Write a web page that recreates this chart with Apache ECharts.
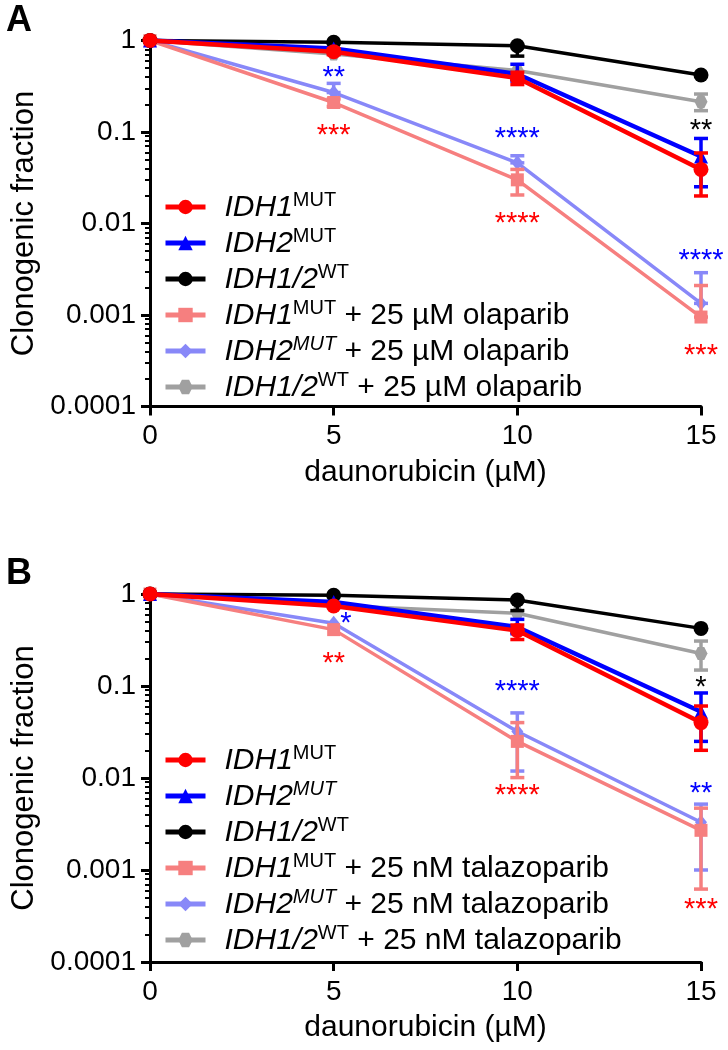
<!DOCTYPE html>
<html>
<head>
<meta charset="utf-8">
<script src="https://cdn.jsdelivr.net/npm/echarts@6/dist/echarts.min.js"></script>
<style>
html,body{margin:0;padding:0;background:#fff;}
#chart{width:728px;height:1050px;}
</style>
</head>
<body>
<div id="chart"></div>
<script>
// ---------- data ----------
const doses = [0, 5, 10, 15];
const yTickLabels = ['0.0001', '0.001', '0.01', '0.1', '1'];

// Panel A (olaparib)
const aIdh1 = [1, 0.755, 0.39, 0.039];
const aIdh2 = [1, 0.82, 0.43, 0.054];
const aWt = [1, 0.955, 0.875, 0.42];
const aIdh1Ola = [1, 0.21, 0.030, 0.00095];
const aIdh2Ola = [1, 0.27, 0.046, 0.00134];
const aWtOla = [1, 0.71, 0.47, 0.214];

// error bars [dose, low, high]
const aIdh1Err = [[5, 0.70, 0.81], [10, 0.33, 0.45], [15, 0.0200, 0.059]];
const aIdh2Err = [[10, 0.36, 0.55], [15, 0.0252, 0.085]];
const aWtErr = [[10, 0.675, 0.875]];
const aIdh1OlaErr = [[5, 0.19, 0.23], [10, 0.0205, 0.039], [15, 0.00095, 0.0021]];
const aIdh2OlaErr = [[5, 0.27, 0.34], [10, 0.046, 0.055], [15, 0.00134, 0.0029]];
const aWtOlaErr = [[15, 0.171, 0.26]];

// Panel B (talazoparib)
const bIdh1 = [1, 0.74, 0.40, 0.040];
const bIdh2 = [1, 0.82, 0.437, 0.0525];
const bWt = [1, 0.97, 0.86, 0.423];
const bIdh1Tal = [1, 0.41, 0.025, 0.0027];
const bIdh2Tal = [1, 0.48, 0.032, 0.0033];
const bWtTal = [1, 0.75, 0.617, 0.226];

const bIdh1Err = [[10, 0.32, 0.46], [15, 0.020, 0.0606]];
const bIdh2Err = [[10, 0.37, 0.53], [15, 0.025, 0.084]];
const bWtErr = [[10, 0.66, 0.86]];
const bIdh1TalErr = [[10, 0.0101, 0.040], [15, 0.00062, 0.0047]];
const bIdh2TalErr = [[10, 0.0119, 0.051], [15, 0.0010, 0.0052]];
const bWtTalErr = [[15, 0.149, 0.308]];

// significance annotations [dose, y, text, colorKey]
const aStars = [
  [5, 0.456, '**', 'blue'], [5, 0.105, '***', 'red'],
  [10, 0.098, '****', 'blue'], [10, 0.0114, '****', 'red'],
  [15, 0.119, '**', 'black'], [15, 0.00453, '****', 'blue'], [15, 0.000414, '***', 'red']
];
const bStars = [
  [5.33, 0.548, '*', 'blue'], [5, 0.201, '**', 'red'],
  [10, 0.1005, '****', 'blue'], [10, 0.00736, '****', 'red'],
  [15, 0.111, '*', 'black'], [15, 0.00774, '**', 'blue'], [15, 0.000423, '***', 'red']
];

// legend labels: [gene, superscript, suffix]
const aLegend = [
  ['IDH1', 'MUT', ''], ['IDH2', 'MUT', ''], ['IDH1/2', 'WT', ''],
  ['IDH1', 'MUT', ' + 25 µM olaparib'], ['IDH2', 'MUT', ' + 25 µM olaparib'], ['IDH1/2', 'WT', ' + 25 µM olaparib']
];
const bLegend = [
  ['IDH1', 'MUT', ''], ['IDH2', 'MUT', ''], ['IDH1/2', 'WT', ''],
  ['IDH1', 'MUT', ' + 25 nM talazoparib'], ['IDH2', 'MUT', ' + 25 nM talazoparib'], ['IDH1/2', 'WT', ' + 25 nM talazoparib']
];

// ---------- styles ----------
const FONT = '"Liberation Sans", Arial, Helvetica, sans-serif';
const C = {red: '#ff0000', blue: '#0000ff', black: '#000000', salmon: '#f67f7f', lav: '#8888f8', gray: '#a0a0a0'};
const HEX = 'path://M-1,0 L-0.5,-0.87 L0.5,-0.87 L1,0 L0.5,0.87 L-0.5,0.87 Z';
const seriesStyle = [
  {color: C.red, symbol: 'circle', size: 15, width: 4.5, z: 7},
  {color: C.blue, symbol: 'triangle', size: 14, width: 4.5, z: 6},
  {color: C.black, symbol: 'circle', size: 15, width: 3.5, z: 5},
  {color: C.salmon, symbol: 'rect', size: 13, width: 3.5, z: 4},
  {color: C.lav, symbol: 'diamond', size: [12, 15], width: 3.5, z: 3},
  {color: C.gray, symbol: HEX, size: 13, width: 3.5, z: 2}
];

const panels = [
  {key: 'A', vals: [aIdh1, aIdh2, aWt, aIdh1Ola, aIdh2Ola, aWtOla],
   errs: [aIdh1Err, aIdh2Err, aWtErr, aIdh1OlaErr, aIdh2OlaErr, aWtOlaErr],
   stars: aStars, legend: aLegend, top: 40.5, height: 366, legendTop: 185},
  {key: 'B', vals: [bIdh1, bIdh2, bWt, bIdh1Tal, bIdh2Tal, bWtTal],
   errs: [bIdh1Err, bIdh2Err, bWtErr, bIdh1TalErr, bIdh2TalErr, bWtTalErr],
   stars: bStars, legend: bLegend, top: 594, height: 368, legendTop: 738}
];

const grids = [], xAxes = [], yAxes = [], series = [], legends = [], titles = [];
const minorVals = [];
for (let e = -4; e < 0; e++) for (let m = 2; m <= 9; m++) minorVals.push(m * Math.pow(10, e));

function errRender(color) {
  return function (params, api) {
    const x = api.value(0), lo = api.value(1), hi = api.value(2);
    const pLo = api.coord([x, lo]), pHi = api.coord([x, hi]);
    const hw = 7;
    const st = {stroke: color, lineWidth: 3.5};
    return {type: 'group', children: [
      {type: 'line', shape: {x1: pLo[0], y1: pLo[1], x2: pHi[0], y2: pHi[1]}, style: st},
      {type: 'line', shape: {x1: pLo[0] - hw, y1: pLo[1], x2: pLo[0] + hw, y2: pLo[1]}, style: st},
      {type: 'line', shape: {x1: pHi[0] - hw, y1: pHi[1], x2: pHi[0] + hw, y2: pHi[1]}, style: st}
    ]};
  };
}

panels.forEach((p, gi) => {
  grids.push({left: 150, width: 551, top: p.top, height: p.height, containLabel: false});
  xAxes.push({
    type: 'value', gridIndex: gi, min: 0, max: 15, interval: 5,
    axisLine: {show: true, lineStyle: {color: '#000', width: 3}},
    axisTick: {show: true, length: 9, lineStyle: {color: '#000', width: 3}},
    splitLine: {show: false},
    axisLabel: {fontSize: 28, color: '#000', fontFamily: FONT, margin: 16},
    name: 'daunorubicin (µM)', nameLocation: 'middle', nameGap: 51,
    nameTextStyle: {fontSize: 30, color: '#000', fontFamily: FONT}
  });
  yAxes.push({
    type: 'log', logBase: 10, gridIndex: gi, min: 0.0001, max: 1, position: 'left',
    axisLine: {show: true, lineStyle: {color: '#000', width: 3}},
    axisTick: {show: true, length: 9, lineStyle: {color: '#000', width: 3}},
    splitLine: {show: false},
    axisLabel: {fontSize: 28, color: '#000', fontFamily: FONT, margin: 14,
      formatter: v => yTickLabels[Math.round(Math.log10(v)) + 4]},
    name: 'Clonogenic fraction', nameLocation: 'middle', nameGap: 103,
    nameTextStyle: {fontSize: 31, color: '#000', fontFamily: FONT}
  });
  titles.push({text: p.key, left: 1, top: p.key === 'A' ? -2 : 551,
    textStyle: {fontSize: 36, fontWeight: 'bold', color: '#000', fontFamily: FONT}});

  const names = [];
  const fmtMap = {};
  p.vals.forEach((vals, si) => {
    const st = seriesStyle[si];
    const name = p.key + si;
    names.push(name);
    const lg = p.legend[si];
    const supStyle = (lg[0] === 'IDH2' && (si === 4 || p.key === 'B')) ? 'supi' : 'sup';
    fmtMap[name] = '{g|' + lg[0] + '}{' + supStyle + '|' + lg[1] + '}' + (lg[2] ? '{t|' + lg[2] + '}' : '');
    series.push({
      type: 'line', name: name, xAxisIndex: gi, yAxisIndex: gi,
      data: doses.map((d, i) => [d, vals[i]]),
      symbol: st.symbol, symbolSize: st.size, showSymbol: true,
      lineStyle: {color: st.color, width: st.width},
      itemStyle: {color: st.color},
      z: st.z + 10, clip: false, animation: false, silent: true
    });
    series.push({
      type: 'custom', name: name + '_err', xAxisIndex: gi, yAxisIndex: gi,
      data: p.errs[si], encode: {x: 0, y: [1, 2]},
      renderItem: errRender(st.color), z: st.z + 9.5, clip: false, animation: false, silent: true
    });
  });
  series.push({
    type: 'scatter', name: p.key + '_stars', xAxisIndex: gi, yAxisIndex: gi,
    symbolSize: 1, itemStyle: {color: 'rgba(0,0,0,0)', opacity: 1}, z: 30, animation: false, silent: true,
    data: p.stars.map(s => ({value: [s[0], s[1]], label: {formatter: s[2], color: C[s[3]]}})),
    label: {show: true, position: 'inside', fontSize: 29, fontFamily: FONT, offset: [0, 6], opacity: 1}
  });
  legends.push({
    data: names, orient: 'vertical', left: 158, top: p.legendTop,
    itemWidth: 40, itemHeight: 18, itemGap: 3, selectedMode: false,
    lineStyle: {width: 5},
    formatter: n => fmtMap[n],
    textStyle: {
      fontSize: 30, fontFamily: FONT, color: '#000', padding: [0, 0, 0, 14],
      rich: {
        g: {fontSize: 30, fontStyle: 'italic', fontFamily: FONT, color: '#000', lineHeight: 32, verticalAlign: 'bottom'},
        sup: {fontSize: 20, fontFamily: FONT, color: '#000', lineHeight: 17, padding: [0, 0, 13, 0], verticalAlign: 'bottom'},
        supi: {fontSize: 20, fontStyle: 'italic', fontFamily: FONT, color: '#000', lineHeight: 17, padding: [0, 0, 13, 0], verticalAlign: 'bottom'},
        t: {fontSize: 30, fontFamily: FONT, color: '#000', lineHeight: 32, verticalAlign: 'bottom'}
      }
    }
  });
});

// minor log ticks (second y axis per grid)
panels.forEach((p, gi) => {
  yAxes.push({
    type: 'log', logBase: 10, gridIndex: gi, min: 0.0001, max: 1, position: 'left',
    axisLine: {show: false}, splitLine: {show: false}, axisLabel: {show: false},
    axisTick: {show: true, length: 5, customValues: minorVals, lineStyle: {color: '#000', width: 2}}
  });
});

const chart = echarts.init(document.getElementById('chart'), null, {renderer: 'canvas'});
chart.setOption({
  backgroundColor: '#fff',
  animation: false,
  title: titles,
  grid: grids,
  xAxis: xAxes,
  yAxis: yAxes,
  legend: legends,
  series: series
});
</script>
</body>
</html>
